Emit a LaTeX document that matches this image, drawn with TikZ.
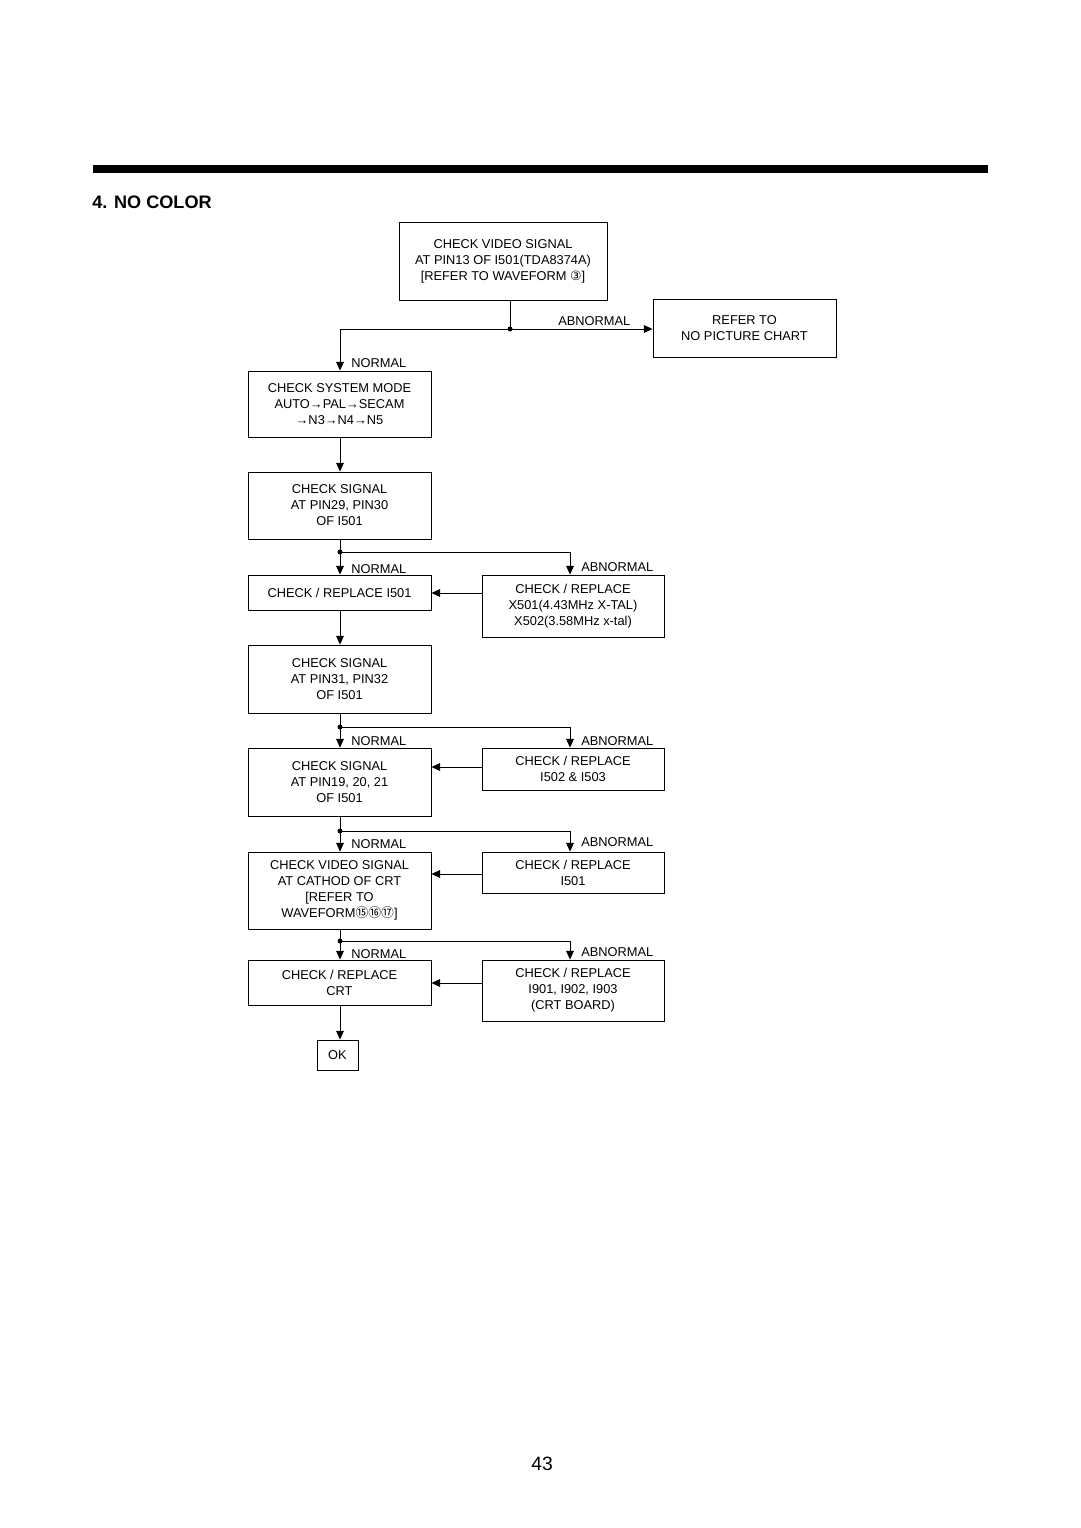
\documentclass[tikz,border=0pt]{standalone}
\usepackage{fontspec}
\setmainfont{Liberation Sans}
\newfontfamily\circfont{DejaVu Sans}
\newfontfamily\circcjk{Noto Sans CJK SC}
\usetikzlibrary{arrows.meta}
\usetikzlibrary{calc}
\newcommand{\chtbw}{3.66cm}
\newcommand{\chtrw}{3.64cm}
\newcommand{\chtcx}{339.5}
\newcommand{\chtrx}{573}

\begin{document}
\begin{tikzpicture}[x=0.02cm,y=-0.02cm,
    every node/.style={font=\fontsize{7.3}{9.1}\selectfont, align=center, inner sep=0pt},
    chkbox/.style={draw, line width=0.5pt, minimum width=\chtbw},
    rplbox/.style={draw, line width=0.5pt, minimum width=\chtrw},
    flow/.style={line width=0.5pt, -{Triangle[length=5pt,width=4.4pt]}},
    wire/.style={line width=0.5pt},
    lbl/.style={anchor=west}]

    \useasboundingbox (0,0) rectangle (1080,1528);

    % header
    \fill (93,165) rectangle (988,173);
    \node [anchor=west, font=\bfseries\fontsize{10.3}{12}\selectfont] (title) at (92,202) {4. NO COLOR};

    % boxes
    \node [draw, line width=0.5pt, minimum width=4.16cm, minimum height=1.56cm] (vsig) at (503,261)
      {CHECK VIDEO SIGNAL\\AT PIN13 OF I501(TDA8374A)\\{}[REFER TO WAVEFORM {\circfont ③}]};
    \node [chkbox, minimum height=1.16cm] (nopic) at (744.5,328) {REFER TO\\NO PICTURE CHART};
    \node [chkbox, minimum height=1.32cm] (sysmd) at (\chtcx,404)
      {CHECK SYSTEM MODE\\AUTO→PAL→SECAM\\→N3→N4→N5};
    \node [chkbox, minimum height=1.34cm] (sigA) at (\chtcx,505.5)
      {CHECK SIGNAL\\AT PIN29, PIN30\\OF I501};
    \node [chkbox, minimum height=0.7cm] (rplA) at (\chtcx,592.5) {CHECK / REPLACE I501};
    \node [rplbox, minimum height=1.24cm] (xtal) at (\chtrx,606)
      {CHECK / REPLACE\\X501(4.43MHz X-TAL)\\X502(3.58MHz x-tal)};
    \node [chkbox, minimum height=1.36cm] (sigB) at (\chtcx,679)
      {CHECK SIGNAL\\AT PIN31, PIN32\\OF I501};
    \node [chkbox, minimum height=1.36cm] (sigC) at (\chtcx,782)
      {CHECK SIGNAL\\AT PIN19, 20, 21\\OF I501};
    \node [rplbox, minimum height=0.84cm] (rplB) at (\chtrx,769) {CHECK / REPLACE\\I502 \& I503};
    \node [chkbox, minimum height=1.54cm] (cath) at (\chtcx,890.5)
      {CHECK VIDEO SIGNAL\\AT CATHOD OF CRT\\{}[REFER TO\\WAVEFORM{\circcjk ⑮⑯⑰}]};
    \node [rplbox, minimum height=0.82cm] (rplC) at (\chtrx,872.5) {CHECK / REPLACE\\I501};
    \node [chkbox, minimum height=0.9cm] (crt) at (\chtcx,982.5) {CHECK / REPLACE\\CRT};
    \node [rplbox, minimum height=1.22cm] (brd) at (\chtrx,990.5)
      {CHECK / REPLACE\\I901, I902, I903\\(CRT BOARD)};
    \node [draw, line width=0.5pt, minimum width=0.82cm, minimum height=0.6cm] (ok) at (337.5,1055) {OK};

    % junctions
    \coordinate (jA) at (510,329);
    \coordinate (jB) at (340,552);
    \coordinate (jC) at (340,727);
    \coordinate (jD) at (340,831);
    \coordinate (jE) at (340,941);
    \foreach \j in {jA,jB,jC,jD,jE}
      \fill (\j) circle (0.05cm);

    % connectors
    \draw [wire] (vsig.south -| jA) -- (jA);
    \draw [flow] (jA) -- (jA -| nopic.west);
    \draw [flow] (jA) -| (sysmd.north -| jB);
    \draw [flow] (sysmd.south -| jB) -- (sigA.north -| jB);

    \draw [wire] (sigA.south -| jB) -- (jB);
    \draw [flow] (jB) -- (rplA.north -| jB);
    \draw [flow] (jB) -| (xtal.north -| 570,0);
    \draw [flow] (xtal.west |- 0,593) -- (rplA.east |- 0,593);
    \draw [flow] (rplA.south -| jB) -- (sigB.north -| jB);

    \draw [wire] (sigB.south -| jC) -- (jC);
    \draw [flow] (jC) -- (sigC.north -| jC);
    \draw [flow] (jC) -| (rplB.north -| 570,0);
    \draw [flow] (rplB.west |- 0,767) -- (sigC.east |- 0,767);

    \draw [wire] (sigC.south -| jD) -- (jD);
    \draw [flow] (jD) -- (cath.north -| jD);
    \draw [flow] (jD) -| (rplC.north -| 570,0);
    \draw [flow] (rplC.west |- 0,874) -- (cath.east |- 0,874);

    \draw [wire] (cath.south -| jE) -- (jE);
    \draw [flow] (jE) -- (crt.north -| jE);
    \draw [flow] (jE) -| (brd.north -| 570,0);
    \draw [flow] (brd.west |- 0,983) -- (crt.east |- 0,983);
    \draw [flow] (crt.south -| jE) -- (ok.north -| jE);

    % branch labels
    \node [lbl] (abA) at (558,321) {ABNORMAL};
    \node [lbl] (nmA) at (351,363) {NORMAL};
    \node [lbl] (nmB) at (351,569) {NORMAL};
    \node [lbl] (abB) at (581,567) {ABNORMAL};
    \node [lbl] (nmC) at (351,741) {NORMAL};
    \node [lbl] (abC) at (581,741) {ABNORMAL};
    \node [lbl] (nmD) at (351,844) {NORMAL};
    \node [lbl] (abD) at (581,842) {ABNORMAL};
    \node [lbl] (nmE) at (351,954) {NORMAL};
    \node [lbl] (abE) at (581,952) {ABNORMAL};

    % page number
    \node [font=\fontsize{11}{13}\selectfont] (pgno) at (542,1464) {43};

\end{tikzpicture}
\end{document}
